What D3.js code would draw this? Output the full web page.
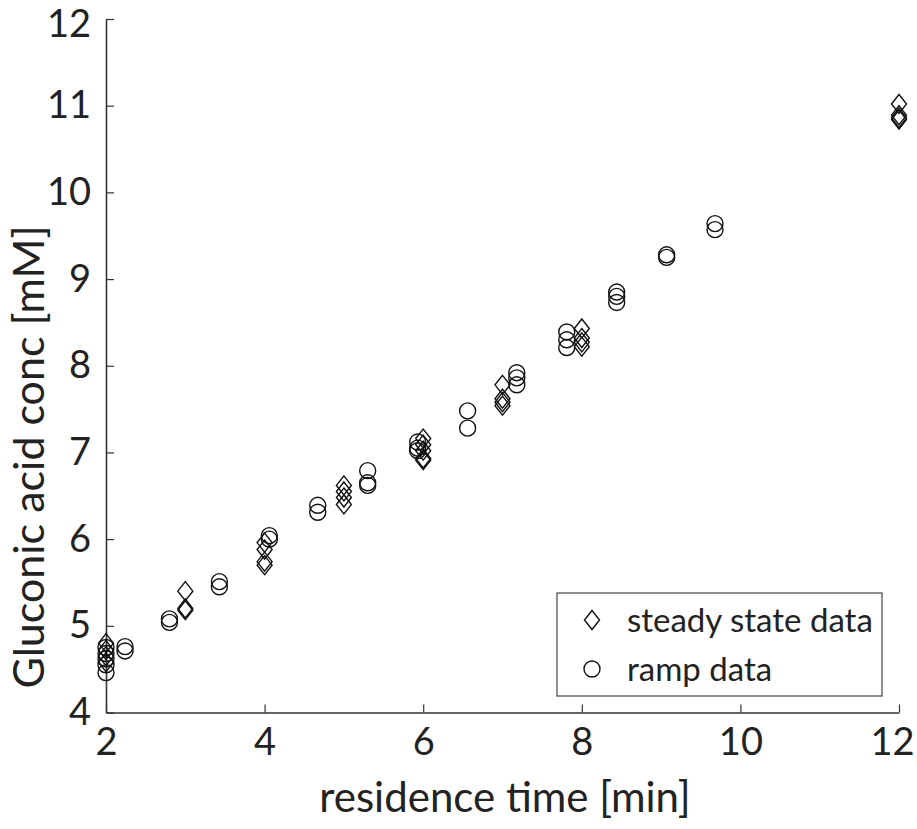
<!DOCTYPE html>
<html>
<head>
<meta charset="utf-8">
<script src="https://cdn.jsdelivr.net/npm/d3@7"></script>
<style>
  html, body { margin: 0; padding: 0; background: #fff; }
  svg text { font-family: Lato, "Open Sans", sans-serif; fill: #222; }
</style>
</head>
<body>
<svg id="chart" width="917" height="829"></svg>
<script>
// ---- data ----
const xTicks = [2, 4, 6, 8, 10, 12];
const yTicks = [4, 5, 6, 7, 8, 9, 10, 11, 12];

const steadyX = [2, 2, 2, 2,
                 3, 3, 3,
                 4, 4, 4, 4,
                 5, 5, 5, 5,
                 6, 6, 6, 6, 6,
                 7, 7, 7, 7,
                 8, 8, 8, 8,
                 12, 12, 12, 12];
const steadyY = [4.80, 4.72, 4.65, 4.58,
                 5.40, 5.20, 5.18,
                 5.96, 5.88, 5.74, 5.70,
                 6.62, 6.55, 6.48, 6.40,
                 7.16, 7.09, 7.02, 6.93, 6.91,
                 7.78, 7.62, 7.58, 7.54,
                 8.43, 8.32, 8.27, 8.22,
                 11.02, 10.89, 10.86, 10.84];

const rampX = [2.0, 2.0, 2.0, 2.0, 2.0,
               2.24, 2.24,
               2.8, 2.8,
               3.43, 3.43,
               4.06, 4.06,
               4.67, 4.67,
               5.3, 5.3, 5.3,
               5.93, 5.93, 5.93,
               6.56, 6.56,
               7.18, 7.18, 7.18,
               7.81, 7.81, 7.81,
               8.44, 8.44, 8.44,
               9.07, 9.07,
               9.68, 9.68];
const rampY = [4.75, 4.68, 4.62, 4.55, 4.46,
               4.76, 4.71,
               5.08, 5.04,
               5.51, 5.45,
               6.04, 6.00,
               6.39, 6.31,
               6.79, 6.65, 6.62,
               7.12, 7.05, 7.02,
               7.48, 7.28,
               7.92, 7.86, 7.78,
               8.39, 8.30, 8.21,
               8.85, 8.80, 8.73,
               9.28, 9.25,
               9.64, 9.57];

const legendLabels = ["steady state data", "ramp data"];
const xLabel = "residence time [min]";
const yLabel = "Gluconic acid conc [mM]";

// ---- layout ----
const svg = d3.select("#chart");
const x = d3.scaleLinear().domain([2, 12]).range([106, 899]);
const y = d3.scaleLinear().domain([4, 12]).range([712.5, 19]);

const axisColor = "#333";
const tickFont = 38;

// x axis
const gx = svg.append("g").attr("transform", `translate(0,${y(4)})`)
  .call(d3.axisBottom(x).tickValues(xTicks).tickSizeInner(-8).tickSizeOuter(0).tickPadding(16).tickFormat(d3.format("d")));
// y axis
const gy = svg.append("g").attr("transform", `translate(${x(2)},0)`)
  .call(d3.axisLeft(y).tickValues(yTicks).tickSizeInner(-8).tickSizeOuter(0).tickPadding(15).tickFormat(d3.format("d")));

[gx, gy].forEach(g => {
  g.select(".domain").attr("stroke", axisColor).attr("stroke-width", 1.6);
  g.selectAll(".tick line").attr("stroke", axisColor).attr("stroke-width", 1.2);
  g.selectAll(".tick text").attr("font-size", tickFont).attr("fill", "#222")
    .style("font-family", "Lato, 'Open Sans', sans-serif");
});
gx.selectAll(".tick text").attr("dy", "0.71em");
// keep the last x label inside the picture
gx.selectAll(".tick text").filter(d => d === 12).attr("text-anchor", "end").attr("dx", 15);
// keep the top y label inside the picture
gy.selectAll(".tick text").filter(d => d === 12).attr("dy", "0.45em");

// axis labels
svg.append("text").attr("x", 505).attr("y", 812).attr("text-anchor", "middle")
  .attr("font-size", 42).text(xLabel);
svg.append("text").attr("transform", `translate(44,${457}) rotate(-90)`)
  .attr("text-anchor", "middle").attr("font-size", 43).text(yLabel);

// markers
const diamond = (cx, cy) => `M${cx},${cy - 9.5}L${cx + 7.5},${cy}L${cx},${cy + 9.5}L${cx - 7.5},${cy}Z`;

const gm = svg.append("g");
gm.selectAll("circle.ramp").data(rampX.map((d, i) => [d, rampY[i]])).join("circle")
  .attr("class", "ramp")
  .attr("cx", d => x(d[0])).attr("cy", d => y(d[1])).attr("r", 8)
  .attr("fill", "none").attr("stroke", "#111").attr("stroke-width", 1.4);
gm.selectAll("path.steady").data(steadyX.map((d, i) => [d, steadyY[i]])).join("path")
  .attr("class", "steady")
  .attr("d", d => diamond(x(d[0]), y(d[1])))
  .attr("fill", "none").attr("stroke", "#111").attr("stroke-width", 1.4);

// legend
const lg = svg.append("g");
lg.append("rect").attr("x", 557).attr("y", 593).attr("width", 325).attr("height", 103)
  .attr("fill", "#fff").attr("stroke", "#444").attr("stroke-width", 1.2);
lg.append("path").attr("d", diamond(592, 620)).attr("fill", "none").attr("stroke", "#111").attr("stroke-width", 1.4);
lg.append("circle").attr("cx", 592).attr("cy", 669).attr("r", 8).attr("fill", "none").attr("stroke", "#111").attr("stroke-width", 1.4);
lg.selectAll("text.lt").data(legendLabels).join("text").attr("class", "lt")
  .attr("x", 627).attr("y", (d, i) => 620 + i * 49).attr("dy", "0.35em")
  .attr("font-size", 33).text(d => d);
</script>
</body>
</html>
